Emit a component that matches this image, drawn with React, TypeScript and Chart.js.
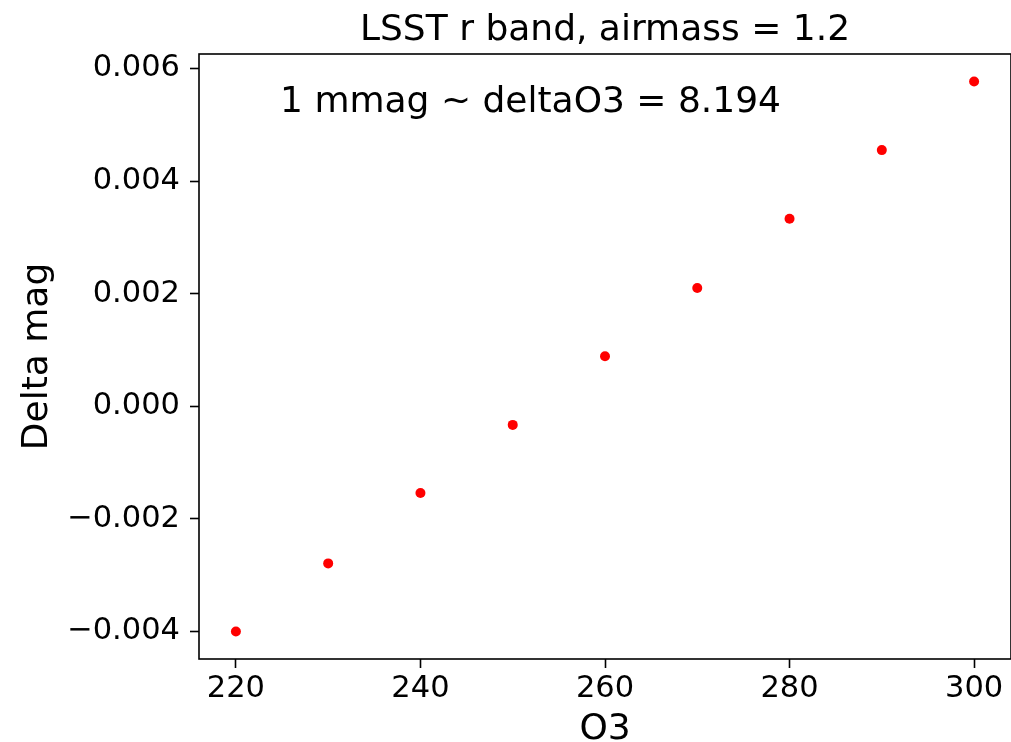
import React, { useEffect, useRef } from "react";
import { Chart, registerables } from "chart.js";

Chart.register(...registerables);

const O3_VALUES = [220, 230, 240, 250, 260, 270, 280, 290, 300];
const DELTA_MAG = [-0.004, -0.00279, -0.00154, -0.00033, 0.00089, 0.0021, 0.00333, 0.00455, 0.00577];
const X_TICKS = [220, 240, 260, 280, 300];
const Y_TICKS = [-0.004, -0.002, 0, 0.002, 0.004, 0.006];
const Y_TICK_LABELS = ["\u22120.004", "\u22120.002", "0.000", "0.002", "0.004", "0.006"];
const X_RANGE = [216, 304];
const Y_RANGE = [-0.004488, 0.006257];
const TITLE = "LSST r band, airmass = 1.2";
const X_LABEL = "O3";
const Y_LABEL = "Delta mag";
const NOTE_TEXT = "1 mmag ~ deltaO3 = 8.194";
const NOTE_X = 225;
const NOTE_Y = 0.00523;

const FONT = '"DejaVu Sans", sans-serif';

const overlay = {
  id: "overlay",
  afterDraw(chart: any) {
    const { ctx, chartArea: a, scales } = chart;
    ctx.save();
    ctx.strokeStyle = "#000";
    ctx.lineWidth = 1.6;
    ctx.strokeRect(a.left, a.top, a.right - a.left, a.bottom - a.top);
    ctx.fillStyle = "#000";
    ctx.font = `36px ${FONT}`;
    ctx.textAlign = "center";
    ctx.textBaseline = "alphabetic";
    ctx.fillText(TITLE, (a.left + a.right) / 2, a.top - 14);
    ctx.textAlign = "left";
    ctx.fillText(NOTE_TEXT, scales.x.getPixelForValue(NOTE_X) - 2, scales.y.getPixelForValue(NOTE_Y));
    ctx.restore();
  },
};

export default function App() {
  const ref = useRef<HTMLCanvasElement | null>(null);
  useEffect(() => {
    if (!ref.current) return;
    const chart = new Chart(ref.current, {
      type: "scatter",
      data: {
        datasets: [
          {
            data: O3_VALUES.map((x, i) => ({ x, y: DELTA_MAG[i] })),
            backgroundColor: "#ff0000",
            borderWidth: 0,
            pointRadius: 5,
            pointHoverRadius: 5,
          },
        ],
      },
      options: {
        animation: false,
        responsive: false,
        devicePixelRatio: 1,
        layout: { autoPadding: false, padding: { top: 54, left: 0, right: 0, bottom: 0 } },
        plugins: { legend: { display: false }, tooltip: { enabled: false } },
        scales: {
          x: {
            type: "linear",
            min: X_RANGE[0],
            max: X_RANGE[1],
            afterBuildTicks: (s: any) => {
              s.ticks = X_TICKS.map((v) => ({ value: v }));
            },
            afterFit: (s: any) => {
              s.height = 83;
              s.paddingLeft = 0;
              s.paddingRight = 0;
            },
            grid: {
              drawOnChartArea: false,
              drawTicks: true,
              tickLength: 9,
              tickWidth: 1.6,
              tickColor: "#000",
              color: "#000",
            },
            border: { display: false },
            ticks: {
              color: "#000",
              font: { family: FONT, size: 30.5 },
              padding: 3,
              maxRotation: 0,
              autoSkip: false,
              callback: (v: any) => String(v),
            },
            title: {
              display: true,
              text: X_LABEL,
              color: "#000",
              font: { family: FONT, size: 36, lineHeight: 0.8 },
              padding: { top: 0, bottom: -2 },
            },
          },
          y: {
            type: "linear",
            min: Y_RANGE[0],
            max: Y_RANGE[1],
            afterBuildTicks: (s: any) => {
              s.ticks = Y_TICKS.map((v) => ({ value: v }));
            },
            afterFit: (s: any) => {
              s.width = 199;
              s.paddingTop = 0;
              s.paddingBottom = 0;
            },
            grid: {
              drawOnChartArea: false,
              drawTicks: true,
              tickLength: 9,
              tickWidth: 1.6,
              tickColor: "#000",
              color: "#000",
            },
            border: { display: false },
            ticks: {
              color: "#000",
              font: { family: FONT, size: 30.5 },
              padding: 10,
              autoSkip: false,
              callback: (_v: any, i: number) => Y_TICK_LABELS[i],
            },
            title: {
              display: true,
              text: Y_LABEL,
              color: "#000",
              font: { family: FONT, size: 36, lineHeight: 1.2 },
              padding: { top: 16, bottom: 0 },
            },
          },
        },
      },
      plugins: [overlay],
    } as any);
    return () => chart.destroy();
  }, []);
  return (
    <div style={{ position: "fixed", left: 0, top: 0, width: 1011, height: 742, background: "#fff" }}>
      <canvas ref={ref} width={1011} height={742} style={{ display: "block" }} />
    </div>
  );
}
